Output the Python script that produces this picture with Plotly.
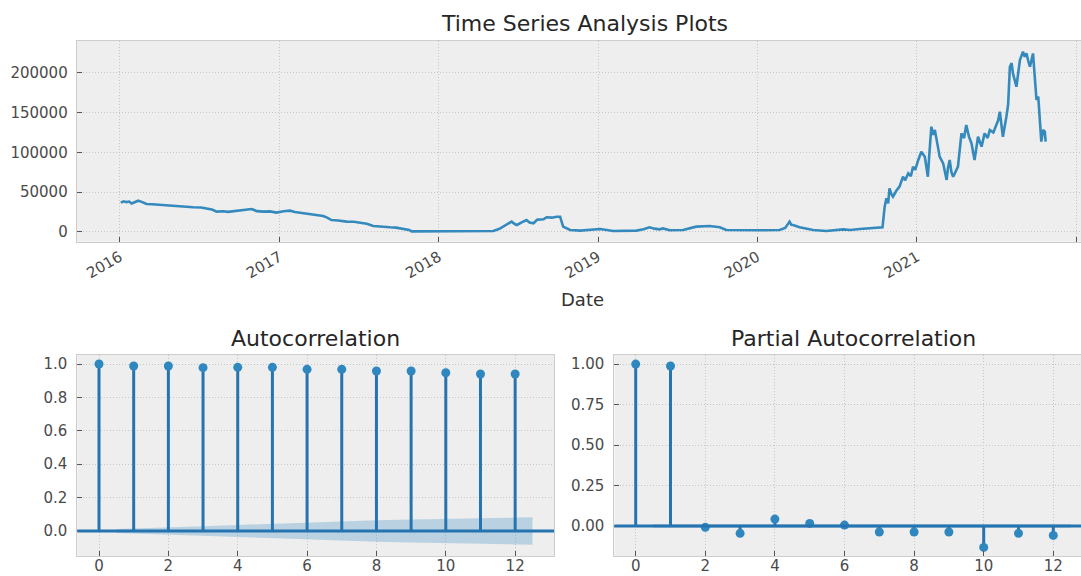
import plotly.graph_objects as go

# ---------------- data ----------------
dates = [
    "2016-01-03", "2016-01-10", "2016-01-16", "2016-01-22", "2016-01-28", "2016-02-05", "2016-02-12",
    "2016-02-20", "2016-03-02", "2016-03-15", "2016-04-02", "2016-04-20", "2016-05-10", "2016-05-25",
    "2016-06-17", "2016-07-05", "2016-07-18", "2016-07-30", "2016-08-10", "2016-08-25", "2016-09-05",
    "2016-09-17", "2016-10-05", "2016-10-20", "2016-10-29", "2016-11-10", "2016-11-25", "2016-12-10",
    "2016-12-25", "2017-01-10", "2017-01-25", "2017-02-05", "2017-02-24", "2017-03-15", "2017-04-11",
    "2017-04-20", "2017-04-30", "2017-05-15", "2017-06-04", "2017-06-20", "2017-07-04", "2017-07-20",
    "2017-08-04", "2017-08-20", "2017-09-11", "2017-09-25", "2017-10-12", "2017-10-25", "2017-10-31",
    "2017-12-04", "2018-01-11", "2018-02-19", "2018-04-05", "2018-05-06", "2018-05-20", "2018-05-29",
    "2018-06-10", "2018-06-17", "2018-06-24", "2018-06-29", "2018-07-10", "2018-07-21", "2018-07-28",
    "2018-08-06", "2018-08-15", "2018-08-29", "2018-09-05", "2018-09-17", "2018-09-28", "2018-10-06",
    "2018-10-13", "2018-10-29", "2018-11-21", "2018-12-15", "2019-01-06", "2019-02-05", "2019-03-30",
    "2019-04-15", "2019-04-29", "2019-05-10", "2019-05-22", "2019-05-30", "2019-06-14", "2019-07-15",
    "2019-08-01", "2019-08-14", "2019-09-14", "2019-10-07", "2019-10-22", "2019-11-29", "2020-01-06",
    "2020-02-21", "2020-03-05", "2020-03-15", "2020-03-19", "2020-03-23", "2020-04-07", "2020-05-08",
    "2020-06-07", "2020-07-16", "2020-08-01", "2020-08-23", "2020-09-22", "2020-10-14", "2020-10-19",
    "2020-10-23", "2020-10-27", "2020-10-30", "2020-11-03", "2020-11-07", "2020-11-15", "2020-11-22",
    "2020-11-30", "2020-12-05", "2020-12-12", "2020-12-18", "2020-12-23", "2020-12-28", "2021-01-04",
    "2021-01-11", "2021-01-19", "2021-01-26", "2021-01-29", "2021-02-03", "2021-02-07", "2021-02-11",
    "2021-02-17", "2021-02-22", "2021-03-02", "2021-03-10", "2021-03-13", "2021-03-17", "2021-03-21",
    "2021-03-25", "2021-04-05", "2021-04-13", "2021-04-19", "2021-04-24", "2021-04-30", "2021-05-06",
    "2021-05-13", "2021-05-21", "2021-05-29", "2021-06-05", "2021-06-12", "2021-06-17", "2021-06-25",
    "2021-07-02", "2021-07-06", "2021-07-10", "2021-07-17", "2021-07-25", "2021-07-29", "2021-08-02",
    "2021-08-06", "2021-08-09", "2021-08-17", "2021-08-25", "2021-09-01", "2021-09-05", "2021-09-09",
    "2021-09-13", "2021-09-17", "2021-09-24", "2021-10-02", "2021-10-06", "2021-10-09", "2021-10-13",
    "2021-10-17", "2021-10-21", "2021-10-23",
]
values = [
    36800, 38500, 37500, 38200, 35800, 37500, 39300,
    37800, 35100, 34800, 33900, 33500, 32600, 32200,
    31000, 30800, 29700, 28200, 25500, 26000, 25200,
    25800, 27200, 27800, 28800, 26200, 25500, 25900,
    24300, 26000, 26800, 25000, 23400, 21800, 20100,
    18000, 15000, 14500, 13000, 12800, 11700, 10300,
    7500, 7200, 5900, 5500, 4200, 2500, 800,
    800, 1300, 800, 800, 1300, 4000, 6700,
    11000, 13000, 10000, 8800, 12000, 15000, 12000,
    10900, 15500, 15900, 18500, 18000, 19200, 19200,
    6700, 2500, 1700, 2500, 3800, 1300, 1700,
    3500, 5900, 4200, 3300, 4500, 2100, 2500,
    4500, 6700, 7500, 5900, 2500, 2100, 2100,
    2500, 5000, 13000, 9000, 8800, 5900, 2500,
    1300, 3300, 2500, 3800, 4600, 5900, 31800,
    42300, 36000, 54800, 48000, 44300, 52000, 56900,
    69400, 65000, 73600, 70000, 82000, 78000, 90400,
    100800, 94600, 69400, 95000, 132200, 122000, 128000,
    110000, 94600, 86200, 65300, 80000, 90400, 75000,
    69400, 82000, 123800, 118000, 134300, 120000, 111300,
    90400, 119600, 107100, 123800, 118000, 128000, 125000,
    134300, 140000, 151000, 119600, 144800, 160000, 207500,
    212000, 199200, 182400, 215900, 226400, 220000, 224200,
    215000, 207500, 224200, 165700, 170000, 144800, 113400,
    128000, 125900, 113400,
]
year_ticks = ["2016-01-01", "2017-01-01", "2018-01-01", "2019-01-01", "2020-01-01", "2021-01-01", "2022-01-01"]
year_labels = ["2016", "2017", "2018", "2019", "2020", "2021", "2022"]
y_ticks_top = [0, 50000, 100000, 150000, 200000]

lags = [0, 1, 2, 3, 4, 5, 6, 7, 8, 9, 10, 11, 12]
acf_vals = [1.0, 0.988, 0.988, 0.978, 0.98, 0.98, 0.968, 0.968, 0.958, 0.958, 0.948, 0.94, 0.94]
acf_conf = [0.012, 0.02, 0.028, 0.036, 0.044, 0.051, 0.058, 0.064, 0.069, 0.073, 0.078, 0.082]  # lags 1..12
pacf_vals = [1.0, 0.988, -0.008, -0.045, 0.043, 0.016, 0.006, -0.037, -0.037, -0.037, -0.132, -0.045, -0.058]
pacf_conf = [0.012] * 12  # lags 1..12
acf_yticks = [0.0, 0.2, 0.4, 0.6, 0.8, 1.0]
pacf_yticks = [0.0, 0.25, 0.5, 0.75, 1.0]
lag_ticks = [0, 2, 4, 6, 8, 10, 12]

# ---------------- style ----------------
W, H = 1081, 576
FONT = "DejaVu Sans"
TICK_FONT = dict(family=FONT, size=15, color="#4a4a4a")
LINE_C = "#348ABD"
STEM_C = "#2574b0"
MARK_C = "#2f87c0"
BAND_C = "rgba(52,138,189,0.28)"
GRID = dict(showgrid=True, gridcolor="#c6c6c6", gridwidth=1, griddash="1px,2px", zeroline=False)
FRAME = dict(showline=True, mirror=True, linecolor="#cdcdcd", linewidth=1)
TICKS = dict(ticks="inside", ticklen=5, tickwidth=1, tickcolor="#555555", tickfont=TICK_FONT,
             automargin=False)

def px_x(px):
    return px / W

def px_y(py):
    return 1 - py / H

fig = go.Figure()

# Top: time series
fig.add_trace(go.Scatter(x=dates, y=values, mode="lines", line=dict(color=LINE_C, width=2.6),
                         xaxis="x", yaxis="y", showlegend=False, hoverinfo="skip"))

def add_corr(vals, conf, xa, ya):
    # confidence band (lags 1..12, ends extended by half a lag)
    bx = [float(l) for l in lags[1:]]
    bx[0] -= 0.5
    bx[-1] += 0.5
    fig.add_trace(go.Scatter(x=bx + bx[::-1], y=list(conf) + [-c for c in conf[::-1]],
                             fill="toself", fillcolor=BAND_C, line=dict(width=0), mode="lines",
                             xaxis=xa, yaxis=ya, showlegend=False, hoverinfo="skip"))
    sx, sy = [], []
    for l, v in zip(lags, vals):
        sx += [l, l, None]
        sy += [0, v, None]
    fig.add_trace(go.Scatter(x=sx, y=sy, mode="lines", line=dict(color=STEM_C, width=3),
                             xaxis=xa, yaxis=ya, showlegend=False, hoverinfo="skip"))
    fig.add_trace(go.Scatter(x=lags, y=vals, mode="markers", marker=dict(color=MARK_C, size=9),
                             xaxis=xa, yaxis=ya, showlegend=False, hoverinfo="skip"))
    fig.add_shape(type="line", xref=xa + " domain", yref=ya, x0=0, x1=1, y0=0, y1=0,
                  line=dict(color=STEM_C, width=3), layer="above")

add_corr(acf_vals, acf_conf, "x2", "y2")
add_corr(pacf_vals, pacf_conf, "x3", "y3")

# ---------------- axes ----------------
top_dom_x = [px_x(76.7), 1.0]
top_dom_y = [px_y(241.7), px_y(41)]
bot_dom_y = [px_y(556), px_y(355)]

fig.update_layout(
    width=W, height=H,
    margin=dict(l=0, r=0, t=0, b=0),
    paper_bgcolor="white",
    plot_bgcolor="#eeeeee",
    font=dict(family=FONT, color="#333333"),
    showlegend=False,
    xaxis=dict(domain=top_dom_x, anchor="y", type="date",
               range=["2015-09-24", "2022-01-12"],
               tickmode="array", tickvals=year_ticks, ticktext=year_labels, tickangle=-30,
               ticklabelstandoff=0, **GRID, **FRAME, **TICKS),
    yaxis=dict(domain=top_dom_y, anchor="x", range=[-12200, 239800],
               tickmode="array", tickvals=y_ticks_top, ticktext=[str(v) for v in y_ticks_top],
               ticklabelstandoff=5, **GRID, **FRAME, **TICKS),
    xaxis2=dict(domain=[px_x(77.3), px_x(554)], anchor="y2", range=[-0.626, 13.12],
                tickmode="array", tickvals=lag_ticks, ticktext=[str(v) for v in lag_ticks],
                ticklabelstandoff=-4, **GRID, **FRAME, **TICKS),
    yaxis2=dict(domain=bot_dom_y, anchor="x2", range=[-0.15, 1.054],
                tickmode="array", tickvals=acf_yticks, ticktext=["%.1f" % v for v in acf_yticks],
                ticklabelstandoff=6, **GRID, **FRAME, **TICKS),
    xaxis3=dict(domain=[px_x(614.3), 1.0], anchor="y3", range=[-0.615, 12.796],
                tickmode="array", tickvals=lag_ticks, ticktext=[str(v) for v in lag_ticks],
                ticklabelstandoff=-4, **GRID, **FRAME, **TICKS),
    yaxis3=dict(domain=bot_dom_y, anchor="x3", range=[-0.185, 1.056],
                tickmode="array", tickvals=pacf_yticks, ticktext=["%.2f" % v for v in pacf_yticks],
                ticklabelstandoff=6, **GRID, **FRAME, **TICKS),
)

title_font = dict(family=FONT, size=22, color="#262626")
fig.add_annotation(text="Time Series Analysis Plots", x=px_x(584.5), y=px_y(23), xref="paper", yref="paper",
                   xanchor="center", yanchor="middle", showarrow=False, font=title_font)
fig.add_annotation(text="Date", x=px_x(582), y=px_y(299), xref="paper", yref="paper",
                   xanchor="center", yanchor="middle", showarrow=False,
                   font=dict(family=FONT, size=18, color="#333333"))
fig.add_annotation(text="Autocorrelation", x=px_x(315.5), y=px_y(338), xref="paper", yref="paper",
                   xanchor="center", yanchor="middle", showarrow=False, font=title_font)
fig.add_annotation(text="Partial Autocorrelation", x=px_x(853), y=px_y(338), xref="paper", yref="paper",
                   xanchor="center", yanchor="middle", showarrow=False, font=title_font)

fig.write_html("out.html")
